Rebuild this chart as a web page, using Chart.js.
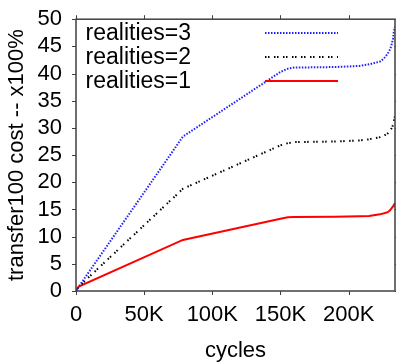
<!DOCTYPE html>
<html>
<head>
<meta charset="utf-8">
<script src="https://cdn.jsdelivr.net/npm/chart.js@4.4.0/dist/chart.umd.min.js"></script>
<style>
    html, body { margin: 0; padding: 0; background: #fff; }
</style>
</head>
<body>
<canvas id="myChart" width="396" height="364"></canvas>
<script>
"use strict";

// data
var cycles = [0, 2000, 78400, 150000, 155400, 160000, 190000, 208000, 215000, 222900, 226000, 228700, 230500, 231700, 232600, 233100, 234000];
var realities3 = [0, 0.8, 28.4, 40.3, 40.9, 41.1, 41.2, 41.4, 41.7, 42.2, 42.8, 43.7, 44.5, 45.5, 46.5, 47.6, 48.6];
var realities2 = [0, 0.8, 18.8, 26.8, 27.2, 27.4, 27.5, 27.7, 27.9, 28.3, 28.6, 29.0, 29.5, 30.0, 30.6, 31.2, 32.2];
var realities1 = [0, 0.8, 9.4, 13.3, 13.55, 13.6, 13.65, 13.75, 13.8, 14.1, 14.3, 14.5, 14.9, 15.3, 15.6, 15.8, 16.2];
var seriesLabels = ['realities=3', 'realities=2', 'realities=1'];
var xTicks = [0, 50000, 100000, 150000, 200000];
var yTicks = [0, 5, 10, 15, 20, 25, 30, 35, 40, 45, 50];

var FONT = 'Liberation Sans, Arial, Helvetica, sans-serif';
var blueDash = [1.5, 1.5];
var blackDash = [1.5, 1.5, 1.5, 4.5];

function toPoints(ys) {
    return cycles.map(function (c, i) { return { x: c, y: ys[i] }; });
}

var lineStyles = [
    { color: '#1f1fff', dash: blueDash, width: 2 },
    { color: '#000000', dash: blackDash, width: 2 },
    { color: '#ff0000', dash: [], width: 2 }
];

var boxPlugin = {
    id: 'box',
    afterDraw: function (chart) {
        var ctx = chart.ctx;
        var a = chart.chartArea;
        var sx = chart.scales.x, sy = chart.scales.y;
        ctx.save();
        ctx.strokeStyle = '#404040';
        ctx.lineWidth = 1.5;
        ctx.strokeRect(a.left, a.top, a.right - a.left, a.bottom - a.top);

        ctx.lineWidth = 1;
        ctx.beginPath();
        xTicks.forEach(function (v) {
            var px = Math.round(sx.getPixelForValue(v)) + 0.5;
            ctx.moveTo(px, a.bottom); ctx.lineTo(px, a.bottom + 4);
            ctx.moveTo(px, a.top); ctx.lineTo(px, a.top - 4);
        });
        yTicks.forEach(function (v) {
            var py = Math.round(sy.getPixelForValue(v)) + 0.5;
            ctx.moveTo(a.left, py); ctx.lineTo(a.left - 4, py);
            ctx.moveTo(a.right, py); ctx.lineTo(a.right + 4, py);
        });
        ctx.stroke();

        // legend: text right aligned, sample line after it
        ctx.font = '23px ' + FONT;
        ctx.fillStyle = '#000';
        ctx.textAlign = 'right';
        ctx.textBaseline = 'middle';
        var rows = [33, 57, 81];
        seriesLabels.forEach(function (lbl, i) {
            ctx.fillText(lbl, 191, rows[i] + 1);
            ctx.beginPath();
            ctx.strokeStyle = lineStyles[i].color;
            ctx.lineWidth = lineStyles[i].width;
            ctx.setLineDash(lineStyles[i].dash);
            ctx.moveTo(265, rows[i]);
            ctx.lineTo(338, rows[i]);
            ctx.stroke();
        });
        ctx.restore();
    }
};

var datasets = [realities3, realities2, realities1].map(function (ys, i) {
    return {
        label: seriesLabels[i],
        data: toPoints(ys),
        borderColor: lineStyles[i].color,
        borderDash: lineStyles[i].dash,
        borderWidth: lineStyles[i].width,
        pointRadius: 0,
        fill: false,
        tension: 0
    };
});

var myChart = new Chart(document.getElementById('myChart'), {
    type: 'line',
    data: { datasets: datasets },
    plugins: [boxPlugin],
    options: {
        responsive: false,
        animation: false,
        devicePixelRatio: 1,
        layout: { padding: { top: 15, right: 1, left: 0, bottom: 0 } },
        plugins: { legend: { display: false }, tooltip: { enabled: false } },
        scales: {
            x: {
                type: 'linear',
                min: 0,
                max: 234000,
                grid: { display: false },
                border: { display: false },
                afterBuildTicks: function (s) { s.ticks = xTicks.map(function (v) { return { value: v }; }); },
                afterFit: function (s) { s.height = 73; },
                ticks: {
                    color: '#000',
                    padding: 3,
                    maxRotation: 0,
                    autoSkip: false,
                    font: { family: FONT, size: 22 },
                    callback: function (v) { return v === 0 ? '0' : (v / 1000) + 'K'; }
                },
                title: {
                    display: true,
                    text: 'cycles',
                    color: '#000',
                    padding: { top: 0, bottom: 0 },
                    font: { family: FONT, size: 22 }
                }
            },
            y: {
                type: 'linear',
                min: 0,
                max: 50,
                grid: { display: false },
                border: { display: false },
                afterBuildTicks: function (s) { s.ticks = yTicks.map(function (v) { return { value: v }; }); },
                afterFit: function (s) { s.width = 76; },
                ticks: {
                    color: '#000',
                    padding: 6,
                    autoSkip: false,
                    font: { family: FONT, size: 22 }
                },
                title: {
                    display: true,
                    text: 'transfer100 cost -- x100%',
                    color: '#000',
                    padding: { top: 4, bottom: 4 },
                    font: { family: FONT, size: 22 }
                }
            }
        }
    }
});
</script>
</body>
</html>
